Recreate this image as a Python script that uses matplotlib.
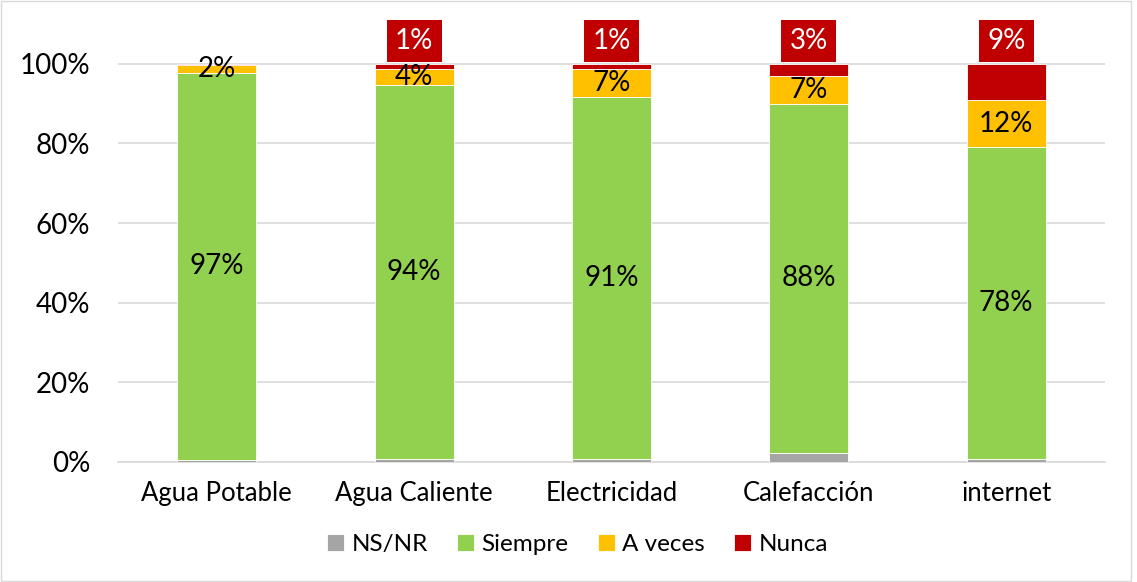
import matplotlib.pyplot as plt
import numpy as np

plt.rcParams['font.family'] = ['Lato', 'DejaVu Sans']

categorias = ["Agua Potable", "Agua Caliente", "Electricidad", "Calefacción", "internet"]
ns_nr = [0.5, 0.8, 0.8, 2.3, 0.8]
siempre = [97.2, 94.0, 90.8, 87.7, 78.3]
a_veces = [2.0, 4.0, 7.0, 7.0, 11.8]
nunca = [0.3, 1.2, 1.4, 3.0, 9.1]

etq_siempre = ["97%", "94%", "91%", "88%", "78%"]
etq_a_veces = ["2%", "4%", "7%", "7%", "12%"]
etq_nunca = [None, "1%", "1%", "3%", "9%"]

colores = {"NS/NR": "#A5A5A5", "Siempre": "#92D050", "A veces": "#FFC000", "Nunca": "#C00000"}

fig = plt.figure(figsize=(11.37, 5.82), dpi=100)
ax = fig.add_axes([0.1038, 0.2062, 0.868, 0.7526])

x = np.arange(len(categorias))
ancho = 0.4
base = np.zeros(len(categorias))
barras = {}
for nombre, vals in [("NS/NR", ns_nr), ("Siempre", siempre), ("A veces", a_veces), ("Nunca", nunca)]:
    barras[nombre] = ax.bar(x, vals, ancho, bottom=base, color=colores[nombre],
                            edgecolor="white", linewidth=0.6, label=nombre, zorder=3)
    base = base + np.array(vals)

# etiquetas
inicio_s = np.array(ns_nr)
for i in range(len(categorias)):
    ax.text(x[i], inicio_s[i] + siempre[i] / 2, etq_siempre[i], ha="center", va="center",
            fontsize=20, color="black", zorder=4)
    ax.text(x[i], inicio_s[i] + siempre[i] + a_veces[i] / 2, etq_a_veces[i], ha="center",
            va="center", fontsize=20, color="black", zorder=4)
    if etq_nunca[i]:
        ax.annotate(etq_nunca[i], (x[i], 100), xytext=(0, 7), textcoords="offset points",
                    ha="center", va="bottom", fontsize=20, color="white", zorder=5,
                    bbox=dict(boxstyle="square,pad=0.3", fc="#C00000", ec="none"))

ax.set_xlim(-0.5, len(categorias) - 0.5)
ax.set_ylim(0, 110)
ax.set_yticks(np.arange(0, 101, 20))
ax.set_yticklabels([f"{v}%" for v in range(0, 101, 20)], fontsize=20)
ax.set_xticks(x)
ax.set_xticklabels(categorias, fontsize=18.5)
ax.tick_params(length=0)
ax.tick_params(axis="x", pad=14)
ax.tick_params(axis="y", pad=20)
ax.yaxis.grid(True, color="#D9D9D9", linewidth=1.2, zorder=0)
for s in ["top", "right", "left"]:
    ax.spines[s].set_visible(False)
ax.spines["bottom"].set_color("#D9D9D9")
ax.spines["bottom"].set_linewidth(1.2)

fig.legend(handles=[barras[k] for k in ["NS/NR", "Siempre", "A veces", "Nunca"]],
           labels=["NS/NR", "Siempre", "A veces", "Nunca"], loc="center",
           bbox_to_anchor=(0.508, 0.064), ncol=4, frameon=False, fontsize=17.5,
           handlelength=0.7, handleheight=0.7, handletextpad=0.3, columnspacing=1.2)

fig.patches.append(plt.Rectangle((0.001, 0.002), 0.994, 0.996, transform=fig.transFigure,
                                 fill=False, edgecolor="#D9D9D9", linewidth=1))

fig.savefig("out.png", dpi=100)
